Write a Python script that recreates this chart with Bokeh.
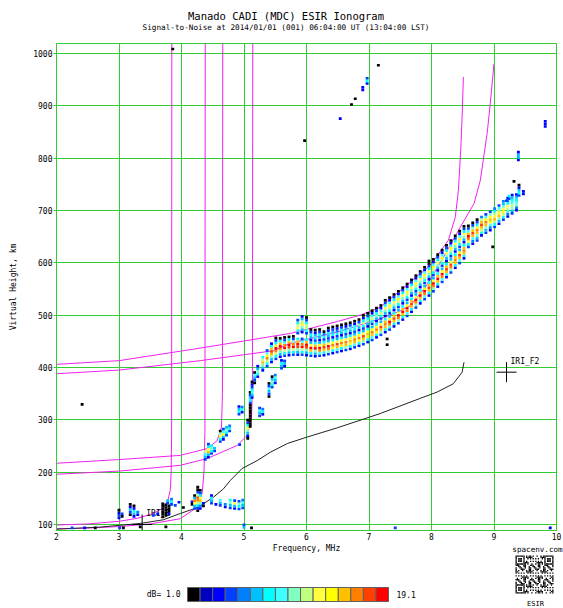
from bokeh.plotting import figure
from bokeh.models import Range1d, FixedTicker, ColumnDataSource
from bokeh.layouts import column
from bokeh.embed import file_html
from bokeh.resources import INLINE
from bokeh.core.properties import value

# ---------------- data ----------------
PALETTE = ["#000000", "#0000c0", "#0000ff", "#0040ff", "#0080ff", "#00c0ff",
           "#00ffff", "#40ffff", "#80ffc0", "#c0ff80", "#ffff40", "#ffff00",
           "#ffc000", "#ff8000", "#ff4000", "#ff0000"]
DB_MIN_LABEL = "dB= 1.0"
DB_MAX_LABEL = "19.1"

TITLE = "Manado CADI (MDC) ESIR Ionogram"
SUBTITLE = "Signal-to-Noise at 2014/01/01 (001) 06:04:00 UT (13:04:00 LST)"
X_LABEL = "Frequency, MHz"
Y_LABEL = "Virtual Height, km"

x_ticks = [2, 3, 4, 5, 6, 7, 8, 9, 10]
y_ticks = [100, 200, 300, 400, 500, 600, 700, 800, 900, 1000]

# echo columns: frequency (MHz), lowest height (km), SNR codes bottom->top (hex index into PALETTE)
o_freq = [5.30, 5.37, 5.44, 5.51, 5.58, 5.65, 5.72, 5.79, 5.86, 5.93, 6.00,
          6.07, 6.14, 6.21, 6.28, 6.35, 6.42, 6.49, 6.56, 6.63, 6.70, 6.77, 6.84,
          6.91, 6.98, 7.05, 7.12, 7.19, 7.26, 7.33, 7.40, 7.47, 7.54, 7.61, 7.68,
          7.75, 7.82, 7.89, 7.96, 8.03, 8.10, 8.17, 8.24, 8.31, 8.38, 8.45, 8.52,
          8.59, 8.66, 8.73, 8.80, 8.87, 8.94, 9.01, 9.08, 9.15, 9.22, 9.29, 9.36]
o_base = [392, 400, 408, 414, 418, 420, 421, 422, 422, 422, 421,
          420, 419, 420, 421, 423, 425, 427, 429, 431, 433, 436, 439,
          442, 446, 450, 455, 460, 465, 470, 476, 482, 489, 496, 504,
          512, 520, 528, 535, 543, 552, 561, 570, 579, 588, 597, 606,
          628, 634, 640, 650, 655, 660, 666, 672, 680, 686, 692, 698]
o_code = ["258c96", "369db73", "258cec62", "369dfb630", "258dfc60", "369fd730", "258efc60", "369fd830", "258efc6", "369fd73", "258efc6",
          "36cfa5", "258fc6", "37dfb5", "26cec6", "38dfa5", "26bdb6", "37cea5", "26bdb6", "38cda5", "26bcb6", "37cdb5", "26bdb6",
          "38cea5", "26bcb6", "37cdb5", "26bdb6", "38cea5", "26cdc6", "37dfb5", "26cec6", "38dfa5", "26cfc6", "37dfb5", "26cec6",
          "38dfa5", "26cfc6", "37dfb5", "26cec6", "38dfa5", "26cfc6", "37dfb5", "26cec6", "38dea5", "26cdc6", "37ceb5", "26cdc6",
          "36adfc730", "247cec830", "358cdb630", "269cec94", "358cdb73", "247bcb83", "369ca964", "258cb973", "369ba854", "2479a642", "35897652", "2487652"]

x_freq = [5.86, 5.93, 6.00, 6.07, 6.14, 6.21, 6.28, 6.35, 6.42, 6.49, 6.56, 6.63,
          6.70, 6.77, 6.84, 6.91, 6.98, 7.05, 7.12, 7.19, 7.26, 7.33, 7.40, 7.47,
          7.54, 7.61, 7.68, 7.75, 7.82, 7.89, 7.96, 8.03, 8.10, 8.17, 8.24, 8.31,
          8.38, 8.45, 8.52]
x_base = [463, 465, 463, 450, 449, 450, 451, 453, 455, 457, 459, 461,
          463, 466, 469, 472, 476, 481, 486, 491, 496, 501, 507, 513,
          520, 527, 535, 543, 551, 559, 566, 574, 583, 592, 601, 610,
          619, 628, 637]
x_code = ["36a963", "258b952", "3699630", "25630", "36520", "25630", "3640", "35620", "26530", "36420", "25630", "36520",
          "25730", "36620", "25830", "369620", "258630", "369720", "258630", "369720", "258a630", "369b720", "258a630", "369b720",
          "258a630", "369b720", "258a630", "369b720", "258a630", "369b720", "258a6300", "369b720", "258a630", "369b720", "258a630", "369b720",
          "258a630", "369b720", "258a630"]

m_freq = [2.25, 2.45, 2.62, 2.41, 3.00, 3.05, 3.01, 3.07, 3.18, 3.24, 3.30, 3.34,
          3.55, 3.62, 3.70, 3.75, 3.80, 3.75, 3.78, 3.84, 3.90, 3.96, 4.03, 4.17,
          4.21, 4.26, 4.30, 4.35, 4.48, 4.55, 4.62, 4.70, 4.78, 4.85, 4.92, 4.98,
          5.00, 5.12, 7.42, 9.90,
          4.38, 4.43, 4.48, 4.53, 4.62, 4.67, 4.72, 4.77, 4.93, 4.92, 4.97,
          5.06, 5.10, 5.13, 5.17, 5.22, 5.25, 5.30, 5.40, 5.45, 5.50, 5.60, 5.65,
          3.86, 5.97, 6.54, 6.72, 6.78, 6.90, 6.97, 7.15, 9.82, 9.39, 9.32, 9.40,
          9.47, 9.24, 9.20, 8.98, 7.29, 7.29]
m_base = [91, 91, 91, 327, 110, 113, 91, 91, 116, 113, 116, 93,
          115, 118, 112, 115, 118, 93, 138, 136, 134, 140, 130, 136,
          128, 124, 128, 133, 138, 136, 134, 131, 129, 128, 127, 129,
          92, 91, 91, 91,
          222, 226, 233, 238, 256, 260, 268, 276, 250, 308, 312,
          262, 285, 340, 368, 380, 305, 308, 342, 360, 368, 396, 400,
          1006, 831, 873, 900, 911, 928, 940, 975, 858, 794, 753, 726,
          729, 720, 716, 628, 452, 441]
m_code = ["3", "2", "0", "0", "2310", "03", "3", "0", "03520", "25620", "24", "0",
          "3", "2", "000000", "00000", "2000", "0", "35", "364", "3", "2", "0", "02",
          "35ad50", "0369de9300", "248ca630", "02", "3562", "2", "357", "24", "3586", "25a3", "3683", "3574",
          "53", "0", "3", "2",
          "3579", "25ca63", "3686", "35", "36a80", "25b73", "3685", "364", "3", "3652", "264",
          "0258a630", "00000000036530", "2576320", "03570", "26852", "3573", "264", "035730", "36850", "2574", "3562", "253",
          "0", "0", "2", "0", "0", "22", "263", "0", "222", "2552", "0", "36520",
          "22", "36", "3", "0", "0", "0"]

# model traces (MHz, km)
e1_f = [2.0, 2.5, 3.0, 3.3, 3.55, 3.71, 3.78, 3.82, 3.835, 3.842, 3.845]
e1_h = [99, 101, 106, 112, 121, 132, 145, 165, 200, 280, 1019]
e2_f = [2.0, 2.5, 3.0, 3.5, 3.98, 4.25, 4.33, 4.36, 4.375, 4.38]
e2_h = [92, 93, 96, 101, 111, 133, 160, 200, 280, 1019]
f1a_f = [2.0, 3.0, 3.98, 4.41, 4.57, 4.64, 4.655, 4.66]
f1a_h = [217, 224, 232, 245, 260, 286, 350, 1019]
f1b_f = [2.0, 3.0, 3.98, 4.41, 4.89, 5.05, 5.12, 5.135, 5.14]
f1b_h = [196, 202, 213, 226, 251, 270, 305, 360, 1019]
f2a_f = [2.0, 3.0, 4.3, 5.74, 6.5, 6.86, 7.18, 7.66, 7.98, 8.27, 8.38, 8.43, 8.47, 8.49, 8.51]
f2a_h = [406, 413, 437, 465, 488, 500, 515, 563, 595, 643, 687, 738, 821, 880, 955]
f2b_f = [2.0, 3.0, 4.3, 5.47, 5.74, 6.5, 7.18, 7.5, 7.66, 7.9, 8.14, 8.46, 8.68, 8.78, 8.89, 8.94, 9.0]
f2b_h = [388, 395, 413, 432, 446, 468, 493, 508, 518, 553, 600, 668, 713, 757, 847, 904, 980]
true_f = [2.0, 2.7, 3.34, 3.71, 3.98, 4.25, 4.51, 4.67, 4.78, 4.97, 5.21, 5.42, 5.7, 6.01, 6.5, 7.18, 7.82, 8.09, 8.35, 8.49, 8.52]
true_h = [91, 95, 102, 109, 121, 132, 152, 168, 184, 207, 222, 238, 255, 267, 285, 312, 341, 353, 369, 391, 410]

iri_f = [3.37, 9.20]
iri_h = [100, 391]
iri_text = ["IRI_E", "IRI_F2"]

# ---------------- styling ----------------
W = 563
GREEN = "#33cc33"
MAGENTA = "#ee22ee"
MONO = "DejaVu Sans Mono"
CELL_H = 5.0
CELL_W = 0.046


def cells(freqs, bases, codes):
    xs, ys, cs = [], [], []
    for f, b, code in zip(freqs, bases, codes):
        for i, ch in enumerate(code):
            if ch == " ":
                continue
            xs.append(f)
            ys.append(b + i * CELL_H + CELL_H / 2)
            cs.append(PALETTE[int(ch, 16)])
    return xs, ys, cs


def strip(height):
    s = figure(width=W, height=height, output_backend="svg", toolbar_location=None, title=None,
               x_range=Range1d(0, W), y_range=Range1d(height, 0), min_border=0,
               min_border_left=0, min_border_right=0, min_border_top=0, min_border_bottom=0,
               frame_align=False,
               background_fill_color="white", border_fill_color="white")
    s.axis.visible = False
    s.grid.visible = False
    s.outline_line_color = None
    return s


# ---------------- title strip (page y 0..38) ----------------
t = strip(38)
t.text(x=[285.5], y=[15], text=[TITLE], text_align="center", text_baseline="middle",
       text_font=value(MONO), text_font_size="10.5px", text_color="#000000")
t.text(x=[285.5], y=[27], text=[SUBTITLE], text_align="center", text_baseline="middle",
       text_font=value(MONO), text_font_size="7.7px", text_color="#000000")

# ---------------- main ionogram (page y 38..542) ----------------
p = figure(width=W, height=504, output_backend="svg", toolbar_location=None,
           title=None, x_range=Range1d(2, 10), y_range=Range1d(88.5, 1019),
           min_border_left=56, min_border_right=7, min_border_top=5, min_border_bottom=12,
           frame_align=False,
           background_fill_color="white", border_fill_color="white")
p.outline_line_color = GREEN
p.outline_line_width = 1

p.xaxis.ticker = FixedTicker(ticks=x_ticks)
p.yaxis.ticker = FixedTicker(ticks=y_ticks)
for ax in (p.xaxis[0], p.yaxis[0]):
    ax.axis_line_color = GREEN
    ax.major_tick_line_color = GREEN
    ax.minor_tick_line_color = None
    ax.major_tick_in = 0
    ax.major_label_text_font = MONO
    ax.major_label_text_font_size = "8px"
    ax.major_label_text_color = "#000000"
    ax.axis_label_text_font = MONO
    ax.axis_label_text_font_size = "8px"
    ax.axis_label_text_font_style = "normal"
    ax.axis_label_text_color = "#000000"
p.xaxis.major_tick_out = 0
p.xaxis.major_label_standoff = 2
p.yaxis.major_tick_out = 3
p.yaxis.major_label_standoff = 1
p.yaxis.axis_label = Y_LABEL
p.yaxis.axis_label_standoff = 12

p.xgrid.grid_line_color = GREEN
p.ygrid.grid_line_color = GREEN
p.xgrid.grid_line_width = 1
p.ygrid.grid_line_width = 1

for fx, hy in ((e1_f, e1_h), (e2_f, e2_h), (f1a_f, f1a_h), (f1b_f, f1b_h), (f2a_f, f2a_h), (f2b_f, f2b_h)):
    p.line(fx, hy, line_color=MAGENTA, line_width=1)
p.line(true_f, true_h, line_color="#222222", line_width=1)

p.scatter(iri_f, iri_h, marker="cross", size=20, line_color="#000000", line_width=1)
p.text(iri_f, iri_h, text=iri_text, x_offset=4, y_offset=-6, text_baseline="bottom",
       text_font=value(MONO), text_font_size="8px", text_color="#000000")

for fr, bs, cd in ((o_freq, o_base, o_code), (x_freq, x_base, x_code), (m_freq, m_base, m_code)):
    xs, ys, cs = cells(fr, bs, cd)
    src = ColumnDataSource(dict(x=xs, y=ys, c=cs))
    p.rect(x="x", y="y", width=CELL_W, height=CELL_H, fill_color="c", line_color=None, source=src)

# ---------------- bottom strip (page y 542..608) ----------------
q = strip(66)
q.text(x=[306], y=[6], text=[X_LABEL], text_align="center", text_baseline="middle",
       text_font=value(MONO), text_font_size="8px", text_color="#000000")
q.text(x=[537], y=[7], text=["spacenv.com"], text_align="center", text_baseline="middle",
       text_font=value(MONO), text_font_size="7.6px", text_color="#000000")

n = len(PALETTE)
bw = 201.0 / n
q.rect(x=[187 + bw * (i + 0.5) for i in range(n)], y=[52] * n, width=bw, height=14,
       fill_color=PALETTE, line_color="#606060", line_width=1)
q.text(x=[180], y=[52], text=[DB_MIN_LABEL], text_align="right", text_baseline="middle",
       text_font=value(MONO), text_font_size="8px", text_color="#000000")
q.text(x=[396], y=[52], text=[DB_MAX_LABEL], text_align="left", text_baseline="middle",
       text_font=value(MONO), text_font_size="8px", text_color="#000000")

# QR-like badge
N = 29
mod = 38.0 / N
qx, qy = [], []
for i in range(N):
    for j in range(N):
        in_finder = False
        on = False
        for (ci, cj) in ((0, 0), (0, N - 7), (N - 7, 0)):
            if ci <= i < ci + 7 and cj <= j < cj + 7:
                in_finder = True
                di, dj = i - ci, j - cj
                ring = min(di, dj, 6 - di, 6 - dj)
                on = ring != 1
        if not in_finder:
            on = ((i * i * 3 + j * 7 + i * j * 5) % 11) < 5
        if on:
            qx.append(515 + (j + 0.5) * mod)
            qy.append(13 + (i + 0.5) * mod)
q.rect(x=qx, y=qy, width=mod, height=mod, fill_color="#000000", line_color=None)
q.text(x=[535], y=[61], text=["ESIR"], text_align="center", text_baseline="middle",
       text_font=value(MONO), text_font_size="7px", text_color="#000000")

layout = column(t, p, q, spacing=0)
open("out.html", "w").write(file_html(layout, INLINE))
